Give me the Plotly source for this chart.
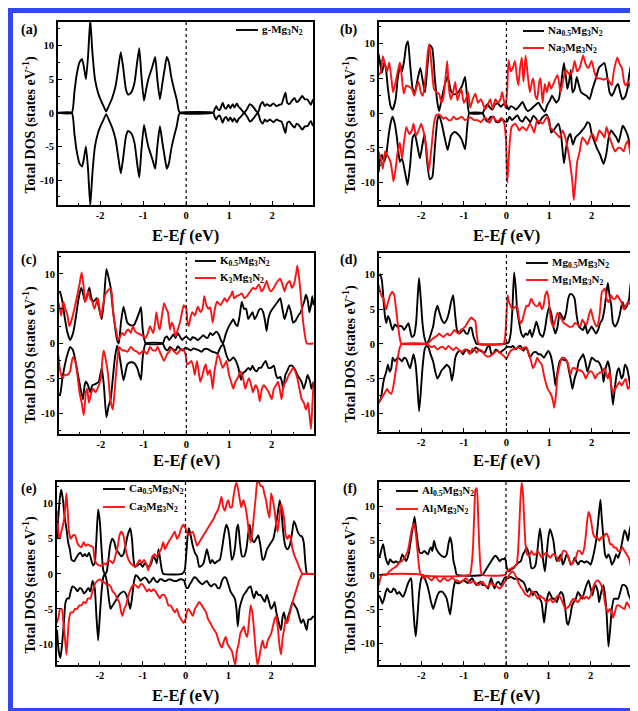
import plotly.graph_objects as go

W, H = 638, 711

# ---------------- data (energy eV, DOS states/eV) ----------------
a_up = [(-3.0,0),(-2.66,0),(-2.6,3.0),(-2.55,5.5),(-2.48,7.5),(-2.42,8.0),(-2.37,6.5),(-2.33,5.0),(-2.28,8.5),(-2.23,13.8),(-2.18,9),(-2.12,5.0),(-2.05,3.0),(-1.98,1.8),(-1.92,1.0),(-1.86,0.2),(-1.8,1.0),(-1.72,2.2),(-1.64,4.0),(-1.58,6.5),(-1.52,9.0),(-1.47,7.0),(-1.4,3.5),(-1.35,2.7),(-1.28,3.0),(-1.2,4.5),(-1.14,7.5),(-1.09,9.6),(-1.04,5.5),(-0.98,1.8),(-0.93,3.5),(-0.88,5.0),(-0.84,5.8),(-0.78,7.0),(-0.72,8.3),(-0.67,5.0),(-0.61,2.0),(-0.55,4.5),(-0.5,6.5),(-0.45,8.3),(-0.4,7.5),(-0.35,5.5),(-0.28,3.5),(-0.22,2.0),(-0.17,0.3),(-0.14,0),(0.63,0),(0.66,0.5),(0.7,1.0),(0.73,0.6),(0.78,0.4),(0.82,1.0),(0.85,1.5),(0.89,0.8),(0.93,0.6),(0.98,1.2),(1.03,0.7),(1.08,1.3),(1.12,0.8),(1.18,1.4),(1.22,0.9),(1.27,0.6),(1.35,0.0),(1.42,0.6),(1.48,1.3),(1.53,1.1),(1.58,0.7),(1.67,0.0),(1.73,1.2),(1.78,1.6),(1.83,1.0),(1.88,1.3),(1.95,1.0),(2.03,1.4),(2.1,1.0),(2.17,1.2),(2.22,1.3),(2.28,2.5),(2.31,3.0),(2.35,1.5),(2.4,1.3),(2.46,1.8),(2.52,2.2),(2.57,1.6),(2.62,1.8),(2.7,2.5),(2.76,2.0),(2.82,2.0),(2.86,1.6),(2.9,1.2),(2.95,2.0)]
a_dn = [(-3.0,0),(-2.66,0),(-2.6,-3.0),(-2.55,-5.5),(-2.48,-7.5),(-2.42,-8.0),(-2.37,-6.5),(-2.33,-5.0),(-2.28,-8.5),(-2.23,-13.8),(-2.18,-9),(-2.12,-5.0),(-2.05,-3.0),(-1.98,-1.8),(-1.92,-1.0),(-1.86,-0.2),(-1.8,-1.0),(-1.72,-2.2),(-1.64,-4.0),(-1.58,-6.5),(-1.52,-9.0),(-1.47,-7.0),(-1.4,-3.5),(-1.35,-2.7),(-1.28,-3.0),(-1.2,-4.5),(-1.14,-7.5),(-1.09,-9.6),(-1.04,-5.5),(-0.98,-1.8),(-0.93,-3.5),(-0.88,-5.0),(-0.84,-5.8),(-0.78,-7.0),(-0.72,-8.3),(-0.67,-5.0),(-0.61,-2.0),(-0.55,-4.5),(-0.5,-6.5),(-0.45,-8.3),(-0.4,-7.5),(-0.35,-5.5),(-0.28,-3.5),(-0.22,-2.0),(-0.17,-0.3),(-0.14,0),(0.63,0),(0.66,-0.5),(0.7,-1.0),(0.73,-0.6),(0.78,-0.4),(0.82,-1.0),(0.85,-1.5),(0.89,-0.8),(0.93,-0.6),(0.98,-1.2),(1.03,-0.7),(1.08,-1.3),(1.12,-0.8),(1.18,-1.4),(1.22,-0.9),(1.27,-0.6),(1.35,0.0),(1.42,-0.6),(1.48,-1.3),(1.53,-1.1),(1.58,-0.7),(1.67,0.0),(1.73,-1.2),(1.78,-1.6),(1.83,-1.0),(1.88,-1.3),(1.95,-1.0),(2.03,-1.4),(2.1,-1.0),(2.17,-1.2),(2.22,-1.3),(2.28,-2.5),(2.31,-3.0),(2.35,-1.5),(2.4,-1.3),(2.46,-1.8),(2.52,-2.2),(2.57,-1.6),(2.62,-1.8),(2.7,-2.5),(2.76,-2.0),(2.82,-2.0),(2.86,-1.6),(2.9,-1.2),(2.95,-2.0)]

b_blk_up = [(-3.0,8.5),(-2.96,7.0),(-2.92,5.8),(-2.87,7.2),(-2.83,6.5),(-2.78,3.5),(-2.72,1.0),(-2.67,0.5),(-2.6,2.0),(-2.55,5.0),(-2.49,7.0),(-2.45,6.0),(-2.4,7.5),(-2.35,9.8),(-2.31,10.3),(-2.26,7.0),(-2.2,3.5),(-2.15,3.0),(-2.08,5.0),(-2.02,6.5),(-1.96,4.5),(-1.91,3.0),(-1.85,7.0),(-1.8,9.8),(-1.74,9.3),(-1.68,5.0),(-1.62,1.5),(-1.58,0.3),(-1.52,2.0),(-1.45,4.0),(-1.38,5.3),(-1.3,3.2),(-1.23,2.7),(-1.15,2.9),(-1.05,3.8),(-0.97,5.2),(-0.92,2.0),(-0.87,0.0),(-0.56,0.0),(-0.5,0.8),(-0.45,1.3),(-0.4,0.9),(-0.33,0.5),(-0.27,1.2),(-0.2,1.4),(-0.13,0.9),(-0.07,1.3),(0.0,1.2),(0.05,0.5),(0.1,1.0),(0.17,0.8),(0.22,0.5),(0.3,1.0),(0.38,1.6),(0.44,0.8),(0.5,0.3),(0.58,0.6),(0.65,1.0),(0.75,1.5),(0.82,0.8),(0.9,0.2),(0.96,1.2),(1.02,1.8),(1.07,2.5),(1.12,2.0),(1.17,1.5),(1.23,2.0),(1.3,5.0),(1.35,7.2),(1.4,5.0),(1.43,3.5),(1.47,4.5),(1.51,6.2),(1.55,3.0),(1.6,3.5),(1.65,5.2),(1.7,4.0),(1.75,3.0),(1.82,2.7),(1.88,2.5),(1.95,2.0),(2.02,3.5),(2.1,5.0),(2.17,6.5),(2.25,7.0),(2.3,7.2),(2.36,5.5),(2.42,3.0),(2.47,2.5),(2.52,3.0),(2.57,3.8),(2.62,4.2),(2.67,3.0),(2.72,2.0),(2.78,2.3),(2.84,3.5),(2.88,5.5),(2.93,7.0),(2.97,7.5)]
b_blk_dn = [(-3.0,-8.5),(-2.96,-6.5),(-2.92,-6.0),(-2.87,-7.0),(-2.82,-6.0),(-2.76,-3.0),(-2.7,-1.0),(-2.67,-0.5),(-2.62,-1.5),(-2.57,-3.5),(-2.5,-7.0),(-2.45,-6.5),(-2.38,-8.5),(-2.32,-10.3),(-2.26,-7.5),(-2.2,-3.5),(-2.15,-3.0),(-2.08,-5.0),(-2.03,-6.5),(-1.97,-4.5),(-1.92,-3.0),(-1.86,-7.0),(-1.8,-9.5),(-1.74,-9.2),(-1.68,-5.0),(-1.62,-1.0),(-1.58,-0.3),(-1.52,-1.5),(-1.45,-3.5),(-1.38,-5.3),(-1.3,-3.2),(-1.22,-2.7),(-1.14,-3.0),(-1.05,-3.8),(-0.97,-5.2),(-0.92,-2.0),(-0.87,0.0),(-0.56,0.0),(-0.5,-0.8),(-0.45,-1.2),(-0.38,-0.6),(-0.3,-0.5),(-0.25,-1.2),(-0.18,-1.3),(-0.1,-0.8),(-0.04,-1.2),(0.02,-1.2),(0.07,-0.5),(0.13,-1.0),(0.2,-0.6),(0.26,-0.3),(0.32,-1.0),(0.38,-1.2),(0.45,-0.5),(0.52,-1.0),(0.56,-1.3),(0.63,-0.4),(0.7,-0.8),(0.76,-1.5),(0.82,-0.8),(0.88,-0.4),(0.94,-0.2),(1.0,-1.0),(1.05,-2.8),(1.1,-2.5),(1.16,-2.0),(1.22,-1.5),(1.28,-3.0),(1.35,-7.2),(1.4,-5.0),(1.45,-3.5),(1.5,-3.0),(1.56,-4.5),(1.62,-3.5),(1.7,-3.0),(1.77,-2.5),(1.84,-2.0),(1.9,-1.3),(1.95,-1.5),(2.0,-3.0),(2.06,-4.0),(2.12,-5.0),(2.2,-6.0),(2.28,-7.3),(2.34,-6.0),(2.4,-3.5),(2.46,-2.5),(2.52,-3.0),(2.58,-3.5),(2.63,-4.2),(2.68,-3.0),(2.73,-1.8),(2.8,-2.5),(2.86,-3.5),(2.92,-6.0),(2.97,-8.0)]
b_red_up = [(-3.0,5.5),(-2.95,5.8),(-2.9,8.2),(-2.85,7.0),(-2.8,6.0),(-2.75,7.3),(-2.7,5.0),(-2.66,3.0),(-2.6,4.5),(-2.55,6.0),(-2.5,7.3),(-2.46,5.5),(-2.41,2.8),(-2.35,4.0),(-2.28,3.8),(-2.22,3.5),(-2.16,2.5),(-2.1,4.0),(-2.06,4.5),(-2.01,3.0),(-1.96,2.5),(-1.9,5.0),(-1.84,9.0),(-1.81,9.9),(-1.76,7.0),(-1.7,3.5),(-1.64,3.0),(-1.58,2.8),(-1.53,1.5),(-1.48,2.2),(-1.43,5.0),(-1.39,7.5),(-1.35,3.5),(-1.3,2.0),(-1.25,3.0),(-1.2,4.5),(-1.15,1.8),(-1.1,2.8),(-1.06,3.5),(-1.0,1.5),(-0.95,2.0),(-0.9,3.0),(-0.85,0.8),(-0.79,2.0),(-0.73,2.8),(-0.67,1.5),(-0.6,2.0),(-0.56,1.5),(-0.5,0.5),(-0.44,1.2),(-0.38,2.0),(-0.32,0.6),(-0.26,2.0),(-0.2,1.5),(-0.14,2.0),(-0.1,3.0),(-0.05,1.5),(-0.02,0.8),(0.02,3.5),(0.05,7.6),(0.1,6.0),(0.15,6.5),(0.2,7.5),(0.25,5.0),(0.28,4.0),(0.32,6.5),(0.36,8.0),(0.4,4.5),(0.45,8.3),(0.5,5.5),(0.55,3.0),(0.6,4.5),(0.63,5.0),(0.68,2.5),(0.72,2.0),(0.77,4.5),(0.8,5.0),(0.85,1.5),(0.9,4.2),(0.95,3.0),(1.0,4.5),(1.05,3.5),(1.12,4.5),(1.2,5.5),(1.27,3.0),(1.34,5.0),(1.4,6.2),(1.48,5.5),(1.55,6.0),(1.6,7.5),(1.66,6.0),(1.72,6.5),(1.8,8.3),(1.86,7.0),(1.92,6.5),(2.0,7.5),(2.06,6.0),(2.12,5.0),(2.2,5.0),(2.28,4.8),(2.35,5.0),(2.42,4.5),(2.47,4.0),(2.52,6.0),(2.6,8.0),(2.66,7.0),(2.71,6.5),(2.76,4.5),(2.8,4.0),(2.86,4.5),(2.92,3.5),(2.97,1.8)]
b_red_dn = [(-3.0,-5.5),(-2.95,-6.5),(-2.9,-8.0),(-2.85,-5.5),(-2.78,-6.2),(-2.72,-7.0),(-2.68,-8.5),(-2.65,-9.8),(-2.6,-8.0),(-2.55,-5.5),(-2.5,-4.3),(-2.45,-6.5),(-2.4,-4.0),(-2.35,-2.0),(-2.28,-3.0),(-2.22,-2.5),(-2.18,-1.5),(-2.12,-3.2),(-2.06,-2.5),(-2.0,-1.5),(-1.95,-2.5),(-1.88,-5.0),(-1.82,-8.3),(-1.76,-5.0),(-1.7,-1.5),(-1.65,-0.3),(-1.58,-0.2),(-1.52,-0.5),(-1.48,-0.8),(-1.42,-0.6),(-1.36,-1.0),(-1.3,-1.0),(-1.24,-0.5),(-1.17,-0.9),(-1.1,-0.7),(-1.05,-0.5),(-0.97,-1.0),(-0.9,-0.8),(-0.84,-0.6),(-0.76,-1.0),(-0.68,-1.0),(-0.6,-1.3),(-0.5,-0.6),(-0.44,-1.0),(-0.4,-1.4),(-0.32,-0.5),(-0.25,-1.0),(-0.2,-1.2),(-0.12,-0.7),(-0.05,-1.5),(-0.01,-4.0),(0.02,-10.0),(0.05,-7.0),(0.08,-4.0),(0.12,-2.0),(0.2,-1.5),(0.26,-2.0),(0.3,-2.5),(0.37,-2.0),(0.42,-2.2),(0.47,-2.5),(0.55,-1.5),(0.6,-2.0),(0.65,-2.8),(0.72,-1.0),(0.78,-1.2),(0.85,-1.5),(0.92,-0.8),(0.96,-0.5),(1.02,-2.0),(1.1,-2.5),(1.18,-3.0),(1.25,-3.5),(1.32,-2.5),(1.38,-3.5),(1.45,-5.5),(1.5,-7.5),(1.55,-10.0),(1.58,-12.5),(1.62,-10.0),(1.66,-7.0),(1.72,-5.5),(1.78,-3.5),(1.85,-4.0),(1.9,-4.5),(1.96,-3.5),(2.02,-3.0),(2.1,-4.0),(2.18,-2.5),(2.25,-3.0),(2.3,-3.5),(2.35,-2.0),(2.42,-3.5),(2.48,-4.5),(2.55,-5.5),(2.62,-5.0),(2.68,-5.0),(2.75,-5.5),(2.8,-4.5),(2.85,-4.0),(2.9,-5.5),(2.94,-6.5),(2.97,-8.5)]

c_blk_up = [(-3.0,7.5),(-2.95,7.3),(-2.9,6.0),(-2.84,3.5),(-2.78,1.5),(-2.72,0.5),(-2.65,1.5),(-2.58,4.0),(-2.52,6.5),(-2.46,8.0),(-2.41,7.0),(-2.37,6.0),(-2.32,7.0),(-2.27,8.0),(-2.22,6.5),(-2.17,6.0),(-2.1,6.5),(-2.04,5.0),(-1.98,3.5),(-1.93,6.0),(-1.87,10.7),(-1.82,9.5),(-1.77,8.0),(-1.72,5.0),(-1.67,2.5),(-1.62,0.5),(-1.58,0.0),(-1.53,3.0),(-1.47,5.3),(-1.42,4.0),(-1.38,3.0),(-1.3,2.6),(-1.22,2.7),(-1.16,3.5),(-1.1,4.5),(-1.06,5.2),(-1.02,2.0),(-0.95,0.0),(-0.55,0.0),(-0.5,0.8),(-0.45,1.0),(-0.4,0.5),(-0.35,0.9),(-0.3,1.3),(-0.25,0.8),(-0.2,1.5),(-0.15,1.0),(-0.1,0.5),(-0.05,0.8),(0.0,1.0),(0.05,0.7),(0.1,0.5),(0.15,0.9),(0.2,0.8),(0.27,0.5),(0.33,0.8),(0.4,1.2),(0.45,0.9),(0.5,0.8),(0.56,1.5),(0.62,1.2),(0.7,1.7),(0.76,1.3),(0.81,0.5),(0.86,0.0),(0.93,1.5),(1.0,2.5),(1.05,3.0),(1.1,3.5),(1.15,2.8),(1.2,2.5),(1.25,4.0),(1.3,6.0),(1.35,5.0),(1.4,5.0),(1.45,3.5),(1.5,4.0),(1.55,4.5),(1.6,3.5),(1.65,4.0),(1.7,4.8),(1.75,5.0),(1.8,4.5),(1.85,3.0),(1.88,1.8),(1.92,3.5),(1.97,4.5),(2.02,5.0),(2.08,5.5),(2.14,6.0),(2.2,6.5),(2.25,5.0),(2.3,3.5),(2.35,4.5),(2.4,5.5),(2.45,4.5),(2.5,3.0),(2.56,3.3),(2.62,4.0),(2.68,4.5),(2.73,5.5),(2.76,6.0),(2.8,7.0),(2.85,6.0),(2.88,4.5),(2.92,5.5),(2.95,6.8),(2.98,5.5)]
c_blk_dn = [(-3.0,-7.5),(-2.95,-7.2),(-2.9,-5.0),(-2.84,-3.0),(-2.78,-1.5),(-2.72,-0.5),(-2.65,-1.0),(-2.58,-3.0),(-2.52,-5.0),(-2.46,-7.0),(-2.42,-8.0),(-2.38,-6.0),(-2.35,-5.5),(-2.3,-6.0),(-2.25,-7.0),(-2.2,-6.0),(-2.12,-5.8),(-2.05,-5.5),(-1.98,-3.5),(-1.93,-6.0),(-1.87,-10.6),(-1.82,-9.0),(-1.77,-8.0),(-1.72,-5.0),(-1.67,-2.0),(-1.62,-0.3),(-1.57,-1.5),(-1.52,-3.5),(-1.47,-5.3),(-1.42,-4.0),(-1.38,-3.0),(-1.3,-2.7),(-1.22,-2.8),(-1.15,-3.5),(-1.1,-4.5),(-1.06,-5.2),(-1.02,-2.0),(-0.95,0.0),(-0.55,0.0),(-0.5,-0.7),(-0.44,-1.0),(-0.38,-0.5),(-0.32,-0.8),(-0.25,-1.0),(-0.2,-0.4),(-0.14,-0.8),(-0.08,-1.0),(-0.02,-0.6),(0.05,-0.8),(0.1,-1.0),(0.17,-0.7),(0.22,-0.8),(0.3,-1.0),(0.36,-1.2),(0.42,-0.8),(0.5,-0.8),(0.56,-1.0),(0.62,-1.2),(0.68,-1.3),(0.73,-1.5),(0.78,-0.8),(0.83,-0.3),(0.87,-0.2),(0.93,-1.5),(1.0,-2.5),(1.05,-2.3),(1.1,-2.0),(1.16,-2.5),(1.22,-3.5),(1.28,-5.2),(1.33,-4.2),(1.38,-4.0),(1.45,-3.5),(1.5,-3.8),(1.55,-3.2),(1.6,-3.8),(1.65,-4.0),(1.7,-3.5),(1.75,-3.5),(1.82,-2.8),(1.86,-2.5),(1.92,-3.5),(1.98,-3.5),(2.05,-3.2),(2.1,-4.5),(2.14,-5.0),(2.2,-4.8),(2.24,-5.5),(2.27,-6.5),(2.32,-4.5),(2.36,-4.0),(2.42,-3.2),(2.48,-3.2),(2.55,-3.8),(2.6,-4.5),(2.65,-5.0),(2.7,-5.5),(2.75,-6.5),(2.8,-5.5),(2.84,-4.5),(2.9,-5.5),(2.93,-6.5),(2.98,-5.5)]
c_red_up = [(-3.0,6.0),(-2.96,5.0),(-2.93,4.0),(-2.88,6.0),(-2.83,5.0),(-2.78,4.0),(-2.74,2.5),(-2.68,3.5),(-2.62,5.0),(-2.55,7.0),(-2.5,8.5),(-2.45,10.2),(-2.4,8.0),(-2.37,6.0),(-2.33,6.5),(-2.3,7.5),(-2.25,6.5),(-2.2,6.0),(-2.15,5.0),(-2.1,6.0),(-2.07,6.5),(-2.02,4.5),(-2.0,3.7),(-1.95,5.5),(-1.9,7.0),(-1.85,7.5),(-1.8,7.8),(-1.76,7.8),(-1.72,5.0),(-1.68,3.0),(-1.63,1.5),(-1.6,0.5),(-1.55,1.0),(-1.5,1.5),(-1.45,1.2),(-1.4,1.8),(-1.35,2.0),(-1.3,1.5),(-1.25,2.5),(-1.2,1.8),(-1.15,1.5),(-1.08,1.3),(-1.0,1.0),(-0.95,0.8),(-0.9,1.5),(-0.85,2.5),(-0.8,1.8),(-0.77,1.5),(-0.72,3.5),(-0.7,4.5),(-0.65,2.5),(-0.62,2.0),(-0.57,4.0),(-0.52,5.8),(-0.47,5.0),(-0.43,4.5),(-0.38,2.0),(-0.34,3.0),(-0.3,2.5),(-0.25,1.0),(-0.2,2.0),(-0.15,3.0),(-0.1,4.5),(-0.06,5.5),(0.0,5.0),(0.03,3.0),(0.06,2.5),(0.1,3.8),(0.14,4.5),(0.2,4.0),(0.27,5.3),(0.33,4.5),(0.38,5.0),(0.42,6.8),(0.47,5.5),(0.52,5.0),(0.56,5.2),(0.62,3.0),(0.67,5.0),(0.72,6.0),(0.8,5.5),(0.85,6.0),(0.9,6.5),(0.95,6.0),(1.0,6.5),(1.05,7.0),(1.08,7.5),(1.12,6.5),(1.18,6.8),(1.25,7.0),(1.3,7.2),(1.36,6.5),(1.42,6.8),(1.5,7.5),(1.56,8.0),(1.62,7.8),(1.7,8.5),(1.76,7.5),(1.82,8.0),(1.88,9.0),(1.93,8.0),(1.98,7.5),(2.05,8.0),(2.12,8.8),(2.2,9.3),(2.25,8.5),(2.3,7.5),(2.35,8.5),(2.42,9.0),(2.47,8.0),(2.52,8.5),(2.57,10.0),(2.6,11.2),(2.64,9.5),(2.68,7.0),(2.72,4.0),(2.77,1.5),(2.82,0.0),(2.98,0.0)]
c_red_dn = [(-3.0,-1.5),(-2.95,-4.0),(-2.9,-5.0),(-2.85,-4.5),(-2.78,-4.5),(-2.72,-4.0),(-2.66,-2.0),(-2.6,-2.5),(-2.55,-4.5),(-2.5,-7.0),(-2.45,-8.5),(-2.4,-10.3),(-2.35,-7.0),(-2.32,-6.5),(-2.28,-8.5),(-2.22,-7.0),(-2.18,-6.5),(-2.12,-7.0),(-2.05,-6.0),(-2.0,-5.0),(-1.96,-2.0),(-1.93,-1.0),(-1.88,-2.5),(-1.83,-4.5),(-1.78,-8.0),(-1.72,-9.5),(-1.68,-7.0),(-1.64,-4.0),(-1.6,-1.5),(-1.57,-0.5),(-1.5,-1.0),(-1.44,-1.0),(-1.38,-1.2),(-1.3,-0.5),(-1.22,-1.0),(-1.15,-1.2),(-1.1,-1.5),(-1.04,-1.2),(-1.0,-1.0),(-0.92,-1.5),(-0.85,-0.5),(-0.78,-1.0),(-0.72,-1.0),(-0.67,-0.5),(-0.6,-1.5),(-0.52,-2.5),(-0.45,-1.5),(-0.4,-1.2),(-0.35,-0.7),(-0.28,-1.2),(-0.22,-1.5),(-0.15,-1.0),(-0.08,-0.8),(-0.02,-1.5),(0.02,-3.0),(0.07,-2.8),(0.12,-2.5),(0.17,-3.5),(0.2,-4.5),(0.25,-2.5),(0.3,-4.5),(0.33,-5.5),(0.38,-4.5),(0.42,-3.5),(0.46,-3.0),(0.5,-4.5),(0.55,-3.8),(0.59,-5.0),(0.62,-6.5),(0.66,-4.0),(0.69,-3.0),(0.74,-1.5),(0.8,-2.5),(0.85,-3.5),(0.9,-3.0),(0.94,-2.5),(1.0,-4.5),(1.05,-5.5),(1.1,-6.5),(1.15,-5.5),(1.2,-5.0),(1.27,-4.0),(1.33,-5.0),(1.38,-6.5),(1.43,-5.5),(1.47,-5.0),(1.52,-6.0),(1.56,-7.0),(1.62,-6.0),(1.67,-6.5),(1.72,-8.3),(1.77,-6.5),(1.82,-6.0),(1.88,-6.5),(1.93,-7.0),(2.0,-8.0),(2.05,-6.5),(2.1,-6.0),(2.15,-5.5),(2.2,-7.0),(2.23,-8.0),(2.28,-6.0),(2.33,-5.5),(2.4,-4.5),(2.45,-4.0),(2.5,-3.5),(2.55,-4.0),(2.6,-5.0),(2.65,-6.5),(2.7,-8.0),(2.75,-8.5),(2.8,-9.5),(2.85,-8.5),(2.88,-10.0),(2.92,-12.3),(2.95,-9.0),(2.98,-5.5)]

d_blk_up = [(-3.0,9.8),(-2.96,10.0),(-2.92,9.0),(-2.88,6.0),(-2.85,4.0),(-2.82,3.0),(-2.78,4.0),(-2.74,3.5),(-2.7,2.5),(-2.67,2.0),(-2.62,2.8),(-2.56,2.5),(-2.5,2.6),(-2.45,2.5),(-2.4,2.0),(-2.35,2.5),(-2.3,3.0),(-2.26,2.0),(-2.22,1.0),(-2.17,1.2),(-2.12,3.0),(-2.08,7.0),(-2.05,9.5),(-2.01,6.5),(-1.97,3.0),(-1.92,0.8),(-1.87,0.0),(-1.82,0.5),(-1.77,1.5),(-1.72,2.5),(-1.67,4.5),(-1.62,5.5),(-1.57,4.5),(-1.52,3.5),(-1.46,3.0),(-1.4,3.5),(-1.35,4.5),(-1.3,6.0),(-1.25,7.0),(-1.2,4.0),(-1.16,2.0),(-1.1,1.5),(-1.05,1.8),(-1.0,2.0),(-0.95,1.5),(-0.9,1.5),(-0.86,2.3),(-0.82,2.3),(-0.78,1.2),(-0.74,0.5),(-0.7,0.0),(-0.05,0.0),(0.05,0.2),(0.1,1.5),(0.14,5.0),(0.18,10.3),(0.22,8.0),(0.25,5.0),(0.3,3.0),(0.35,1.5),(0.4,1.0),(0.45,1.5),(0.5,1.3),(0.55,2.0),(0.6,1.0),(0.65,2.0),(0.7,3.2),(0.74,2.5),(0.78,1.5),(0.85,1.0),(0.9,2.0),(0.95,4.0),(1.0,5.3),(1.05,4.5),(1.1,2.5),(1.15,1.5),(1.2,2.5),(1.25,4.5),(1.3,4.0),(1.35,3.5),(1.4,4.5),(1.45,6.5),(1.5,7.2),(1.56,7.0),(1.6,6.5),(1.65,4.0),(1.7,2.5),(1.75,2.2),(1.8,2.0),(1.85,2.8),(1.9,1.5),(1.95,2.0),(2.0,2.5),(2.05,2.0),(2.1,1.5),(2.15,2.0),(2.2,3.0),(2.25,3.5),(2.3,5.0),(2.35,7.5),(2.38,8.8),(2.42,7.0),(2.46,5.5),(2.5,3.0),(2.55,2.5),(2.6,3.0),(2.65,4.0),(2.7,5.5),(2.73,6.0),(2.78,5.0),(2.83,5.5),(2.88,6.5),(2.92,9.0),(2.96,8.0),(2.98,7.5)]
d_blk_dn = [(-3.0,-8.5),(-2.95,-8.0),(-2.9,-6.0),(-2.87,-5.0),(-2.82,-4.0),(-2.78,-3.0),(-2.74,-4.0),(-2.7,-3.5),(-2.67,-2.0),(-2.62,-2.5),(-2.55,-2.0),(-2.5,-2.2),(-2.45,-2.5),(-2.4,-2.0),(-2.35,-2.2),(-2.3,-3.0),(-2.26,-3.5),(-2.22,-2.5),(-2.18,-1.5),(-2.13,-3.0),(-2.09,-6.0),(-2.05,-9.7),(-2.01,-7.0),(-1.97,-3.5),(-1.92,-0.8),(-1.88,-0.3),(-1.83,-0.5),(-1.78,-1.5),(-1.72,-2.5),(-1.67,-4.0),(-1.62,-5.0),(-1.57,-4.5),(-1.52,-3.8),(-1.47,-3.5),(-1.4,-3.0),(-1.33,-3.5),(-1.28,-5.3),(-1.24,-4.0),(-1.2,-2.0),(-1.14,-1.2),(-1.08,-1.0),(-1.02,-1.5),(-0.95,-0.8),(-0.88,-1.0),(-0.82,-1.3),(-0.76,-0.8),(-0.72,-0.5),(-0.66,-0.8),(-0.6,-1.0),(-0.55,-1.2),(-0.5,-1.2),(-0.45,-0.5),(-0.4,-0.3),(-0.35,-1.5),(-0.3,-1.3),(-0.25,-0.8),(-0.2,-1.0),(-0.15,-1.3),(-0.1,-1.0),(-0.05,-0.8),(0.0,-0.5),(0.05,-0.4),(0.1,-0.5),(0.15,-0.3),(0.22,-0.8),(0.28,-0.4),(0.33,-0.3),(0.4,-1.0),(0.45,-0.5),(0.5,-1.0),(0.55,-2.0),(0.6,-1.5),(0.65,-1.2),(0.7,-1.2),(0.75,-1.5),(0.8,-1.5),(0.85,-1.8),(0.88,-2.0),(0.93,-1.5),(0.98,-1.0),(1.03,-1.5),(1.07,-2.5),(1.12,-4.5),(1.15,-6.0),(1.2,-4.0),(1.25,-2.5),(1.3,-2.2),(1.35,-2.3),(1.42,-2.5),(1.47,-4.0),(1.52,-5.5),(1.55,-6.5),(1.6,-5.0),(1.65,-4.0),(1.7,-2.5),(1.75,-2.0),(1.8,-1.5),(1.85,-2.5),(1.9,-4.0),(1.95,-3.0),(2.0,-2.0),(2.05,-2.2),(2.1,-2.5),(2.15,-2.5),(2.2,-3.0),(2.25,-4.0),(2.28,-5.5),(2.33,-3.5),(2.38,-2.5),(2.42,-3.5),(2.45,-5.5),(2.5,-8.8),(2.55,-6.0),(2.6,-4.0),(2.64,-3.5),(2.7,-5.0),(2.74,-4.5),(2.78,-3.0),(2.83,-3.5),(2.88,-5.0),(2.92,-6.5),(2.98,-7.0)]
d_red_up = [(-3.0,8.5),(-2.96,7.5),(-2.92,6.8),(-2.88,6.5),(-2.85,5.5),(-2.82,5.0),(-2.78,6.0),(-2.73,7.0),(-2.68,7.5),(-2.63,7.0),(-2.6,5.5),(-2.56,3.5),(-2.52,1.5),(-2.48,0.2),(-2.45,0.0),(-1.87,0.0),(-1.82,0.2),(-1.77,0.5),(-1.72,0.8),(-1.67,1.0),(-1.62,1.2),(-1.58,1.5),(-1.53,1.2),(-1.48,1.0),(-1.43,1.3),(-1.38,1.5),(-1.33,1.2),(-1.28,1.5),(-1.22,2.0),(-1.17,1.7),(-1.12,1.5),(-1.07,2.0),(-1.02,2.2),(-0.97,2.5),(-0.92,3.0),(-0.87,3.5),(-0.82,3.8),(-0.77,3.5),(-0.73,3.3),(-0.7,1.5),(-0.67,0.3),(-0.65,0.0),(-0.07,0.0),(-0.03,1.0),(0.0,4.0),(0.03,7.0),(0.06,6.0),(0.1,5.5),(0.13,5.0),(0.2,5.3),(0.25,5.5),(0.3,3.5),(0.34,3.0),(0.38,3.5),(0.42,4.5),(0.47,5.5),(0.52,5.5),(0.58,6.5),(0.62,6.0),(0.68,5.5),(0.74,5.5),(0.78,6.0),(0.83,5.0),(0.87,5.5),(0.91,7.0),(0.95,7.6),(0.99,6.5),(1.02,4.5),(1.06,3.0),(1.1,2.5),(1.15,3.5),(1.2,4.5),(1.25,4.0),(1.3,3.5),(1.35,3.0),(1.4,2.8),(1.47,2.5),(1.55,2.5),(1.6,3.0),(1.67,2.8),(1.73,2.5),(1.78,3.5),(1.83,3.0),(1.88,2.8),(1.93,4.0),(1.98,5.0),(2.02,4.0),(2.07,3.0),(2.12,2.5),(2.17,3.5),(2.2,5.0),(2.24,7.5),(2.28,7.8),(2.31,8.0),(2.35,6.5),(2.4,6.0),(2.45,7.0),(2.5,6.5),(2.55,6.5),(2.6,7.0),(2.65,6.5),(2.7,6.0),(2.75,5.0),(2.8,5.5),(2.85,6.0),(2.9,5.8),(2.95,5.0),(2.98,4.0)]
d_red_dn = [(-3.0,-8.5),(-2.95,-8.0),(-2.9,-7.5),(-2.85,-7.0),(-2.8,-6.5),(-2.75,-7.0),(-2.7,-7.2),(-2.65,-6.0),(-2.6,-4.0),(-2.55,-2.0),(-2.5,-0.5),(-2.45,0.0),(-1.87,0.0),(-1.82,-0.2),(-1.76,-0.5),(-1.7,-0.3),(-1.62,-0.8),(-1.55,-0.5),(-1.5,-0.4),(-1.43,-0.8),(-1.36,-0.3),(-1.3,-0.6),(-1.25,-0.9),(-1.18,-0.5),(-1.1,-1.0),(-1.05,-1.2),(-0.98,-0.8),(-0.92,-1.0),(-0.86,-1.5),(-0.8,-0.7),(-0.75,-0.8),(-0.7,-1.3),(-0.64,-0.8),(-0.58,-1.0),(-0.52,-1.5),(-0.46,-1.8),(-0.4,-1.8),(-0.33,-1.5),(-0.27,-1.2),(-0.22,-1.0),(-0.16,-1.3),(-0.11,-1.5),(-0.05,-1.8),(0.0,-2.2),(0.05,-1.5),(0.1,-1.0),(0.15,-0.8),(0.2,-0.7),(0.28,-0.5),(0.35,-0.8),(0.42,-0.5),(0.47,-0.5),(0.53,-1.5),(0.58,-2.5),(0.62,-3.5),(0.67,-3.0),(0.72,-2.0),(0.77,-2.5),(0.83,-3.0),(0.88,-4.5),(0.92,-5.5),(0.97,-6.5),(1.02,-7.0),(1.06,-7.5),(1.1,-8.5),(1.12,-9.2),(1.16,-7.5),(1.2,-4.5),(1.25,-3.0),(1.3,-2.0),(1.36,-2.0),(1.42,-2.5),(1.47,-3.5),(1.5,-4.5),(1.55,-3.5),(1.6,-3.5),(1.66,-3.8),(1.72,-3.8),(1.78,-4.0),(1.83,-4.5),(1.86,-5.0),(1.9,-4.5),(1.95,-4.0),(2.0,-4.0),(2.05,-4.5),(2.08,-5.0),(2.12,-4.5),(2.18,-4.2),(2.25,-4.0),(2.3,-3.5),(2.35,-4.5),(2.38,-5.0),(2.42,-4.0),(2.46,-6.0),(2.5,-7.0),(2.55,-6.5),(2.6,-6.0),(2.65,-5.5),(2.7,-6.0),(2.75,-5.5),(2.8,-5.0),(2.85,-6.5),(2.9,-6.0),(2.94,-5.5),(2.98,-5.5)]

e_blk_up = [(-3.0,5.0),(-2.97,8.0),(-2.93,11.0),(-2.9,12.0),(-2.86,10.5),(-2.82,8.0),(-2.78,6.5),(-2.74,4.5),(-2.7,3.5),(-2.66,2.0),(-2.6,1.8),(-2.55,2.3),(-2.5,2.8),(-2.45,3.0),(-2.4,2.5),(-2.35,2.8),(-2.3,2.5),(-2.25,3.0),(-2.2,2.0),(-2.16,1.2),(-2.12,1.5),(-2.08,5.0),(-2.04,9.2),(-2.0,7.5),(-1.96,3.5),(-1.92,0.5),(-1.88,0.0),(-1.84,0.3),(-1.8,2.0),(-1.76,4.0),(-1.71,5.0),(-1.66,4.5),(-1.62,3.5),(-1.56,3.0),(-1.5,2.5),(-1.45,2.8),(-1.4,4.0),(-1.35,5.5),(-1.29,6.5),(-1.25,5.0),(-1.22,2.5),(-1.18,1.0),(-1.12,1.2),(-1.06,1.5),(-1.0,1.0),(-0.95,1.5),(-0.9,1.2),(-0.85,1.0),(-0.8,1.5),(-0.75,2.5),(-0.7,2.0),(-0.67,1.5),(-0.63,3.5),(-0.6,2.5),(-0.56,0.8),(-0.52,0.0),(-0.08,0.0),(-0.02,0.5),(0.02,3.0),(0.05,5.5),(0.08,6.5),(0.12,5.5),(0.17,4.0),(0.22,3.0),(0.27,2.5),(0.32,1.0),(0.38,1.2),(0.42,1.5),(0.46,2.5),(0.5,3.5),(0.54,2.5),(0.58,1.5),(0.62,2.0),(0.68,1.5),(0.74,1.8),(0.8,2.0),(0.85,3.5),(0.9,5.5),(0.95,7.0),(0.99,6.5),(1.03,5.0),(1.08,2.0),(1.12,2.5),(1.16,4.0),(1.2,6.5),(1.23,7.0),(1.27,4.5),(1.32,2.5),(1.37,2.5),(1.42,3.5),(1.47,6.0),(1.5,7.0),(1.55,5.0),(1.6,4.5),(1.65,5.0),(1.7,5.5),(1.75,4.0),(1.8,2.0),(1.84,2.2),(1.9,3.5),(1.95,4.0),(2.0,4.5),(2.05,5.0),(2.1,6.5),(2.15,8.5),(2.2,10.5),(2.24,9.0),(2.28,6.0),(2.33,4.0),(2.38,3.5),(2.43,4.0),(2.48,5.5),(2.53,7.5),(2.57,7.0),(2.62,6.0),(2.67,5.5),(2.72,5.3),(2.76,4.5),(2.8,1.5),(2.84,0.0),(3.0,0.0)]
e_blk_dn = [(-3.0,-8.0),(-2.96,-11.0),(-2.92,-12.0),(-2.88,-10.0),(-2.84,-7.0),(-2.8,-4.0),(-2.76,-3.5),(-2.72,-3.5),(-2.68,-2.5),(-2.64,-1.8),(-2.58,-2.0),(-2.52,-2.5),(-2.47,-2.0),(-2.42,-2.2),(-2.37,-2.8),(-2.32,-2.5),(-2.27,-2.0),(-2.22,-2.5),(-2.17,-1.0),(-2.12,-2.0),(-2.08,-6.0),(-2.04,-9.5),(-2.0,-6.0),(-1.96,-2.5),(-1.92,-0.5),(-1.88,0.0),(-1.84,-1.0),(-1.8,-3.0),(-1.75,-5.0),(-1.7,-4.5),(-1.65,-4.0),(-1.6,-3.5),(-1.55,-3.0),(-1.5,-2.7),(-1.44,-2.5),(-1.38,-3.0),(-1.33,-4.0),(-1.29,-5.0),(-1.25,-3.5),(-1.2,-1.0),(-1.16,-0.2),(-1.1,-0.5),(-1.05,-1.0),(-1.0,-0.7),(-0.95,-0.5),(-0.9,-0.8),(-0.85,-1.3),(-0.8,-1.0),(-0.75,-0.5),(-0.7,-1.0),(-0.65,-1.2),(-0.6,-0.8),(-0.55,-0.8),(-0.5,-1.0),(-0.45,-1.0),(-0.4,-0.8),(-0.35,-0.8),(-0.28,-1.0),(-0.2,-1.0),(-0.14,-0.8),(-0.08,-0.8),(-0.03,-1.0),(0.02,-2.0),(0.06,-2.0),(0.1,-1.5),(0.15,-1.0),(0.2,-0.5),(0.25,-0.6),(0.3,-1.0),(0.35,-1.3),(0.4,-1.5),(0.45,-1.2),(0.5,-1.0),(0.55,-1.5),(0.6,-1.8),(0.65,-1.5),(0.7,-1.5),(0.75,-2.0),(0.8,-2.0),(0.85,-1.0),(0.9,-0.5),(0.95,-0.6),(1.0,-1.5),(1.05,-2.5),(1.1,-3.0),(1.15,-3.5),(1.19,-5.0),(1.22,-7.5),(1.26,-5.0),(1.3,-4.0),(1.36,-3.0),(1.42,-2.5),(1.47,-2.0),(1.52,-1.8),(1.57,-3.0),(1.6,-3.5),(1.65,-2.5),(1.7,-3.0),(1.75,-3.0),(1.8,-3.5),(1.85,-4.0),(1.9,-3.0),(1.95,-4.0),(2.0,-5.0),(2.05,-4.5),(2.08,-4.0),(2.12,-5.5),(2.16,-6.5),(2.2,-7.5),(2.23,-8.0),(2.27,-6.0),(2.3,-5.5),(2.35,-7.0),(2.4,-6.0),(2.45,-5.0),(2.5,-4.0),(2.55,-4.5),(2.6,-5.0),(2.65,-6.0),(2.7,-7.0),(2.75,-6.5),(2.8,-7.5),(2.83,-8.0),(2.87,-6.5),(2.92,-6.5),(2.96,-6.2),(3.0,-6.0)]
e_red_up = [(-3.0,9.0),(-2.97,6.0),(-2.94,5.0),(-2.9,6.0),(-2.86,7.0),(-2.83,8.0),(-2.8,10.0),(-2.78,11.5),(-2.75,9.0),(-2.72,6.0),(-2.68,5.0),(-2.63,5.5),(-2.58,5.5),(-2.53,4.5),(-2.48,4.0),(-2.43,3.8),(-2.38,4.5),(-2.33,4.0),(-2.28,4.2),(-2.22,4.0),(-2.16,3.8),(-2.12,2.0),(-2.08,1.5),(-2.02,1.2),(-1.95,1.2),(-1.9,1.5),(-1.85,1.3),(-1.8,2.0),(-1.75,1.8),(-1.7,1.5),(-1.66,2.0),(-1.62,3.0),(-1.58,4.0),(-1.54,5.5),(-1.5,6.0),(-1.45,5.5),(-1.42,4.5),(-1.38,3.0),(-1.33,2.0),(-1.28,1.5),(-1.22,1.2),(-1.17,1.0),(-1.12,1.5),(-1.07,2.0),(-1.02,1.5),(-0.97,2.0),(-0.92,1.5),(-0.87,0.5),(-0.82,1.5),(-0.77,2.5),(-0.72,2.8),(-0.67,2.5),(-0.62,3.0),(-0.57,3.5),(-0.52,4.5),(-0.48,3.5),(-0.44,4.0),(-0.4,4.5),(-0.35,5.0),(-0.3,5.5),(-0.25,6.0),(-0.2,5.0),(-0.15,5.5),(-0.1,6.5),(-0.05,7.0),(0.0,6.5),(0.03,6.0),(0.07,5.5),(0.12,5.8),(0.17,6.0),(0.22,5.0),(0.27,4.0),(0.32,4.5),(0.37,5.0),(0.42,5.5),(0.47,6.0),(0.52,6.5),(0.57,7.0),(0.62,7.5),(0.67,8.0),(0.7,8.5),(0.75,9.0),(0.8,10.0),(0.84,11.0),(0.88,9.5),(0.92,9.0),(0.96,10.0),(1.0,10.5),(1.04,9.5),(1.08,9.5),(1.12,11.0),(1.16,12.5),(1.19,13.0),(1.23,12.0),(1.27,10.5),(1.3,9.5),(1.35,10.5),(1.4,9.5),(1.44,8.0),(1.48,6.0),(1.52,4.5),(1.56,6.0),(1.6,8.5),(1.64,11.0),(1.68,13.5),(1.72,13.0),(1.76,12.5),(1.8,12.5),(1.84,11.5),(1.88,10.5),(1.92,9.0),(1.96,8.0),(2.0,11.5),(2.04,10.5),(2.08,9.0),(2.12,7.0),(2.15,6.0),(2.19,8.0),(2.23,10.0),(2.27,9.0),(2.3,8.0),(2.34,5.5),(2.38,5.0),(2.42,5.5),(2.46,5.0),(2.5,3.5),(2.55,2.5),(2.6,1.8),(2.65,1.0),(2.7,0.3),(2.73,0.0),(3.0,0.0)]
e_red_dn = [(-3.0,-7.0),(-2.96,-6.0),(-2.93,-5.0),(-2.89,-5.0),(-2.85,-7.0),(-2.81,-9.5),(-2.78,-11.5),(-2.75,-9.0),(-2.72,-6.5),(-2.68,-5.5),(-2.63,-5.5),(-2.58,-5.0),(-2.53,-5.0),(-2.48,-4.5),(-2.43,-4.5),(-2.38,-4.0),(-2.33,-4.2),(-2.28,-3.5),(-2.22,-3.5),(-2.17,-2.5),(-2.12,-1.5),(-2.06,-1.0),(-2.0,-0.8),(-1.95,-1.0),(-1.9,-1.2),(-1.85,-1.5),(-1.8,-1.5),(-1.75,-1.8),(-1.7,-2.5),(-1.65,-2.8),(-1.6,-3.5),(-1.55,-4.0),(-1.5,-5.5),(-1.47,-6.0),(-1.43,-5.0),(-1.39,-4.5),(-1.35,-3.5),(-1.3,-2.5),(-1.25,-1.8),(-1.2,-1.5),(-1.15,-1.7),(-1.1,-2.0),(-1.05,-1.5),(-1.0,-1.5),(-0.95,-2.0),(-0.9,-2.5),(-0.85,-2.2),(-0.8,-2.5),(-0.75,-2.2),(-0.7,-2.5),(-0.65,-3.0),(-0.6,-3.5),(-0.55,-3.0),(-0.5,-3.0),(-0.45,-3.5),(-0.4,-4.5),(-0.35,-4.5),(-0.3,-5.0),(-0.25,-5.5),(-0.2,-5.0),(-0.15,-6.0),(-0.1,-6.5),(-0.05,-7.0),(0.0,-6.5),(0.03,-5.5),(0.07,-5.0),(0.12,-5.5),(0.17,-6.0),(0.22,-5.0),(0.27,-4.5),(0.32,-4.0),(0.38,-4.5),(0.43,-5.0),(0.48,-5.5),(0.53,-6.5),(0.58,-7.0),(0.62,-7.5),(0.67,-8.0),(0.72,-8.5),(0.77,-9.5),(0.8,-10.0),(0.85,-10.5),(0.9,-9.5),(0.94,-9.0),(0.98,-10.0),(1.03,-10.5),(1.08,-11.0),(1.12,-12.0),(1.16,-13.0),(1.2,-11.0),(1.24,-10.0),(1.28,-8.5),(1.32,-8.0),(1.36,-7.5),(1.4,-8.5),(1.44,-9.0),(1.48,-7.0),(1.52,-4.5),(1.56,-5.5),(1.6,-8.0),(1.64,-11.0),(1.68,-13.0),(1.72,-12.0),(1.76,-10.5),(1.8,-9.5),(1.84,-10.5),(1.88,-10.5),(1.92,-9.5),(1.96,-9.0),(2.0,-8.5),(2.04,-7.5),(2.08,-6.5),(2.12,-6.0),(2.16,-8.0),(2.2,-10.5),(2.23,-11.5),(2.27,-9.0),(2.3,-8.0),(2.34,-6.5),(2.38,-7.0),(2.42,-6.0),(2.46,-5.0),(2.5,-4.0),(2.55,-3.0),(2.6,-2.0),(2.65,-1.0),(2.7,-0.3),(2.73,0.0),(3.0,0.0)]

f_blk_up = [(-3.0,2.5),(-2.97,3.0),(-2.94,3.8),(-2.9,4.5),(-2.86,3.0),(-2.82,2.0),(-2.78,1.5),(-2.74,2.3),(-2.7,2.0),(-2.65,1.8),(-2.6,2.0),(-2.55,1.8),(-2.5,2.0),(-2.45,3.0),(-2.4,2.5),(-2.36,2.0),(-2.3,3.0),(-2.25,5.0),(-2.2,7.0),(-2.16,8.5),(-2.12,6.5),(-2.08,4.5),(-2.04,3.3),(-1.98,3.2),(-1.93,3.5),(-1.88,3.2),(-1.84,3.0),(-1.8,3.8),(-1.77,4.0),(-1.74,3.5),(-1.7,5.0),(-1.66,4.0),(-1.62,3.5),(-1.56,3.0),(-1.5,2.7),(-1.45,2.6),(-1.4,3.0),(-1.36,4.5),(-1.32,5.5),(-1.28,4.5),(-1.24,2.0),(-1.2,1.0),(-1.16,0.0),(-0.55,0.0),(-0.5,0.5),(-0.45,1.0),(-0.4,1.5),(-0.35,2.0),(-0.3,2.5),(-0.25,2.8),(-0.2,2.5),(-0.15,2.0),(-0.1,2.3),(-0.05,2.3),(-0.02,2.5),(0.02,1.0),(0.07,0.5),(0.12,0.8),(0.18,1.0),(0.24,1.5),(0.3,1.8),(0.35,2.0),(0.4,3.0),(0.45,3.5),(0.48,4.0),(0.52,3.5),(0.56,2.5),(0.6,1.0),(0.65,1.0),(0.7,1.5),(0.75,4.0),(0.8,6.8),(0.84,5.0),(0.88,2.0),(0.92,0.5),(0.96,3.0),(1.0,5.5),(1.04,6.7),(1.08,6.0),(1.12,5.0),(1.16,3.0),(1.2,2.0),(1.25,2.5),(1.3,3.0),(1.34,1.5),(1.38,2.0),(1.43,3.0),(1.48,2.5),(1.53,1.5),(1.58,1.8),(1.62,2.5),(1.66,2.0),(1.7,1.5),(1.75,2.0),(1.8,2.0),(1.85,1.8),(1.9,2.0),(1.95,1.8),(2.0,1.5),(2.05,2.5),(2.1,4.0),(2.14,5.5),(2.18,8.0),(2.23,11.0),(2.26,8.5),(2.3,5.5),(2.34,3.0),(2.38,2.5),(2.42,3.0),(2.46,2.5),(2.5,1.5),(2.55,2.0),(2.6,3.0),(2.65,2.5),(2.7,3.5),(2.75,5.0),(2.8,6.5),(2.84,6.0),(2.88,5.0),(2.92,6.5),(2.96,7.5),(3.0,8.0)]
f_blk_dn = [(-3.0,-3.0),(-2.96,-3.5),(-2.92,-4.2),(-2.88,-3.5),(-2.84,-2.5),(-2.8,-2.0),(-2.75,-2.5),(-2.7,-2.5),(-2.66,-2.0),(-2.62,-2.2),(-2.57,-2.8),(-2.52,-2.5),(-2.47,-3.0),(-2.43,-3.2),(-2.38,-2.5),(-2.33,-1.5),(-2.28,-0.8),(-2.24,-0.5),(-2.2,-4.0),(-2.16,-7.5),(-2.13,-9.0),(-2.09,-6.0),(-2.05,-2.5),(-2.0,-0.5),(-1.96,0.0),(-1.92,-0.5),(-1.86,-1.5),(-1.82,-2.5),(-1.77,-4.0),(-1.72,-5.0),(-1.67,-4.0),(-1.62,-3.0),(-1.57,-2.5),(-1.5,-2.5),(-1.44,-3.0),(-1.4,-3.5),(-1.35,-5.0),(-1.32,-5.8),(-1.28,-4.0),(-1.24,-2.0),(-1.2,-1.0),(-1.15,-1.2),(-1.1,-1.2),(-1.05,-1.0),(-1.0,-0.8),(-0.95,-1.0),(-0.9,-1.2),(-0.85,-0.8),(-0.8,-0.5),(-0.75,-1.0),(-0.7,-1.5),(-0.65,-1.2),(-0.6,-1.0),(-0.55,-1.5),(-0.5,-1.5),(-0.45,-1.8),(-0.42,-2.0),(-0.38,-1.0),(-0.35,-0.5),(-0.3,-1.5),(-0.27,-2.0),(-0.22,-1.2),(-0.18,-1.0),(-0.12,-1.5),(-0.08,-1.0),(-0.04,-0.5),(0.0,-0.3),(0.05,-0.5),(0.1,-0.3),(0.15,-0.4),(0.2,-0.6),(0.25,-0.5),(0.3,-0.6),(0.35,-0.8),(0.4,-1.0),(0.45,-1.5),(0.5,-2.5),(0.55,-2.0),(0.6,-2.5),(0.63,-3.0),(0.67,-2.5),(0.72,-2.5),(0.77,-3.0),(0.8,-3.5),(0.84,-4.0),(0.87,-5.5),(0.9,-7.0),(0.93,-5.5),(0.97,-3.5),(1.02,-2.5),(1.06,-3.0),(1.1,-3.5),(1.15,-3.5),(1.2,-4.0),(1.25,-3.0),(1.3,-2.5),(1.35,-3.0),(1.4,-5.0),(1.44,-7.0),(1.47,-7.3),(1.52,-6.0),(1.56,-4.5),(1.6,-4.0),(1.65,-3.5),(1.7,-2.5),(1.75,-3.0),(1.8,-3.5),(1.85,-2.5),(1.9,-1.5),(1.95,-0.8),(2.0,-2.0),(2.04,-3.0),(2.08,-2.0),(2.12,-1.5),(2.17,-2.5),(2.2,-4.0),(2.25,-2.5),(2.3,-1.5),(2.34,-3.0),(2.38,-6.0),(2.42,-10.5),(2.46,-8.0),(2.5,-5.0),(2.55,-3.5),(2.6,-3.5),(2.65,-3.5),(2.7,-2.5),(2.75,-1.5),(2.8,-1.5),(2.85,-1.8),(2.9,-3.0),(2.94,-3.5),(2.97,-5.0),(3.0,-7.0)]
f_red_up = [(-3.0,0.0),(-2.82,0.0),(-2.76,0.5),(-2.7,0.8),(-2.65,1.0),(-2.58,1.3),(-2.52,1.8),(-2.46,2.0),(-2.4,2.5),(-2.35,3.0),(-2.3,4.0),(-2.26,5.5),(-2.21,7.0),(-2.17,7.5),(-2.13,6.0),(-2.09,3.5),(-2.05,1.0),(-2.01,0.0),(-0.86,0.0),(-0.82,1.0),(-0.78,4.0),(-0.75,9.0),(-0.72,12.5),(-0.69,12.7),(-0.66,9.0),(-0.63,4.0),(-0.6,1.0),(-0.57,0.0),(-0.02,0.0),(0.02,0.5),(0.08,0.8),(0.14,1.0),(0.2,1.2),(0.25,1.5),(0.28,3.0),(0.31,6.5),(0.34,11.0),(0.37,13.5),(0.4,12.0),(0.43,8.0),(0.46,4.5),(0.5,3.0),(0.55,2.8),(0.6,3.5),(0.65,3.0),(0.7,3.0),(0.75,3.5),(0.8,3.0),(0.85,2.5),(0.9,3.0),(0.95,3.2),(1.0,2.8),(1.05,2.5),(1.1,3.0),(1.15,3.0),(1.2,2.5),(1.25,2.0),(1.3,2.5),(1.35,3.5),(1.4,3.5),(1.45,3.0),(1.5,2.0),(1.55,1.5),(1.6,2.0),(1.65,2.5),(1.7,3.5),(1.75,3.5),(1.8,3.0),(1.85,4.0),(1.88,5.5),(1.92,8.0),(1.95,9.2),(1.98,8.8),(2.02,7.5),(2.06,6.0),(2.1,5.5),(2.15,5.5),(2.2,5.0),(2.25,5.5),(2.3,5.5),(2.35,6.0),(2.38,6.0),(2.42,5.5),(2.46,4.5),(2.5,4.5),(2.55,4.0),(2.6,4.0),(2.65,3.5),(2.7,3.5),(2.75,4.0),(2.8,3.5),(2.85,3.0),(2.9,2.5),(2.94,1.5),(2.97,0.8),(3.0,0.3)]
f_red_dn = [(-3.0,-1.5),(-2.97,-0.5),(-2.94,0.0),(-2.0,0.0),(-1.95,-0.5),(-1.9,-0.3),(-1.85,-0.3),(-1.8,-0.6),(-1.75,-0.8),(-1.7,-0.4),(-1.65,-0.3),(-1.6,-0.8),(-1.55,-1.0),(-1.5,-0.6),(-1.45,-0.5),(-1.4,-0.8),(-1.35,-0.8),(-1.3,-0.5),(-1.25,-0.5),(-1.2,-0.8),(-1.15,-0.8),(-1.1,-1.0),(-1.05,-1.0),(-1.0,-0.7),(-0.95,-0.5),(-0.9,-0.8),(-0.85,-1.2),(-0.8,-1.0),(-0.75,-1.0),(-0.7,-1.3),(-0.65,-1.5),(-0.6,-1.2),(-0.55,-1.0),(-0.5,-1.5),(-0.45,-1.8),(-0.4,-1.5),(-0.35,-1.2),(-0.3,-1.5),(-0.25,-1.5),(-0.2,-1.8),(-0.15,-2.0),(-0.1,-1.7),(-0.05,-1.2),(0.0,-0.8),(0.05,-0.3),(0.1,0.2),(0.15,0.5),(0.2,0.2),(0.25,-0.5),(0.3,-1.2),(0.35,-1.8),(0.4,-2.2),(0.45,-2.8),(0.5,-3.0),(0.55,-3.2),(0.6,-2.5),(0.65,-2.5),(0.7,-3.0),(0.75,-3.5),(0.8,-3.0),(0.85,-3.3),(0.9,-3.5),(0.95,-4.0),(1.0,-3.8),(1.05,-3.5),(1.1,-4.0),(1.15,-3.8),(1.2,-3.2),(1.25,-3.0),(1.3,-3.5),(1.35,-4.2),(1.4,-5.0),(1.45,-4.8),(1.5,-4.5),(1.55,-3.8),(1.6,-3.5),(1.65,-3.8),(1.7,-4.0),(1.75,-3.5),(1.8,-3.0),(1.85,-3.5),(1.9,-3.2),(1.95,-3.5),(2.0,-3.0),(2.05,-2.0),(2.1,-1.2),(2.15,-0.8),(2.2,-1.0),(2.25,-1.5),(2.3,-2.5),(2.35,-4.5),(2.4,-5.5),(2.45,-5.0),(2.5,-5.5),(2.53,-6.3),(2.57,-5.5),(2.62,-4.5),(2.68,-4.5),(2.74,-4.8),(2.8,-5.0),(2.85,-4.0),(2.9,-4.5),(2.95,-5.0),(3.0,-5.5)]

x_tick_vals = [-2, -1, 0, 1, 2]
x_tick_text = ["-2", "-1", "0", "1", "2"]
y_tick_vals = [-10, -5, 0, 5, 10]
y_tick_text = ["-10", "-5", "0", "5", "10"]
x_minor = [-2.5, -1.5, -0.5, 0.5, 1.5, 2.5]
y_minor = [-12.5, -7.5, -2.5, 2.5, 7.5, 12.5]

panel_labels = ["(a)", "(b)", "(c)", "(d)", "(e)", "(f)"]
legend_names = [
    ["g-Mg<sub>3</sub>N<sub>2</sub>"],
    ["Na<sub>0.5</sub>Mg<sub>3</sub>N<sub>2</sub>", "Na<sub>3</sub>Mg<sub>3</sub>N<sub>2</sub>"],
    ["K<sub>0.5</sub>Mg<sub>3</sub>N<sub>2</sub>", "K<sub>3</sub>Mg<sub>3</sub>N<sub>2</sub>"],
    ["Mg<sub>0.5</sub>Mg<sub>3</sub>N<sub>2</sub>", "Mg<sub>1</sub>Mg<sub>3</sub>N<sub>2</sub>"],
    ["Ca<sub>0.5</sub>Mg<sub>3</sub>N<sub>2</sub>", "Ca<sub>3</sub>Mg<sub>3</sub>N<sub>2</sub>"],
    ["Al<sub>0.5</sub>Mg<sub>3</sub>N<sub>2</sub>", "Al<sub>1</sub>Mg<sub>3</sub>N<sub>2</sub>"],
]
panel_series = [
    [(a_up, a_dn)],
    [(b_blk_up, b_blk_dn), (b_red_up, b_red_dn)],
    [(c_blk_up, c_blk_dn), (c_red_up, c_red_dn)],
    [(d_blk_up, d_blk_dn), (d_red_up, d_red_dn)],
    [(e_blk_up, e_blk_dn), (e_red_up, e_red_dn)],
    [(f_blk_up, f_blk_dn), (f_red_up, f_red_dn)],
]

# ---------------- layout geometry (pixels) ----------------
BLACK, RED = "#000000", "#ff1111"
colors = [BLACK, RED]
FONT = "Liberation Serif, Times New Roman, serif"
geo = [  # (x0, x1, y0_top, y1_bottom)
    (50, 305, 14, 197), (371, 625, 14, 197),
    (51, 306, 245, 426), (371, 625, 245, 424),
    (49, 306, 474, 657), (371, 625, 474, 657),
]
xranges = [(-2.98, 2.95), (-2.99, 2.97), (-2.98, 2.99), (-2.99, 2.97), (-3.0, 3.0), (-3.0, 3.0)]
yranges = [(-13.7, 13.5), (-13.2, 13.1), (-13.0, 13.0), (-12.7, 13.1), (-13.0, 13.1), (-13.2, 13.6)]
label_pos = [(21, 22), (340, 22), (21, 252), (340, 252), (21, 481), (342, 481)]
legend_pos = [  # line x0, x1, first row y, row step
    (228, 250, 22, 0), (515, 536, 23, 17), (187, 208, 253, 17),
    (518, 540, 255, 17), (95, 117, 481, 18), (388, 410, 483, 18),
]
ytitle_x = [22, 342]
xtitle_y = [227, 452, 687]


def px(x):
    return x / W


def py(y):
    return 1 - y / H


fig = go.Figure()
shapes, annotations = [], []
layout = {}

for i in range(6):
    n = i + 1
    xa, ya = f"x{n}" if n > 1 else "x", f"y{n}" if n > 1 else "y"
    x0, x1, yt, yb = geo[i]
    for s, (up, dn) in enumerate(panel_series[i]):
        for curve in (up, dn):
            fig.add_trace(go.Scatter(
                x=[p[0] for p in curve], y=[p[1] for p in curve],
                mode="lines", line=dict(color=colors[s], width=1.9, shape="spline", smoothing=0.5),
                xaxis=xa, yaxis=ya, showlegend=False, hoverinfo="skip"))
    axis_common = dict(showline=True, linecolor="black", linewidth=1.6, mirror=True,
                       ticks="inside", ticklen=4, tickwidth=1.3, tickcolor="black",
                       showgrid=False, zeroline=False,
                       tickfont=dict(family=FONT, size=10.5, color="black", weight="bold"))
    layout[f"xaxis{n if n > 1 else ''}"] = dict(
        axis_common, domain=[px(x0), px(x1)], range=list(xranges[i]), anchor=ya,
        tickvals=x_tick_vals, ticktext=x_tick_text,
        minor=dict(tickvals=x_minor, ticks="inside", ticklen=2.5, tickwidth=1.1, tickcolor="black"))
    layout[f"yaxis{n if n > 1 else ''}"] = dict(
        axis_common, domain=[py(yb), py(yt)], range=list(yranges[i]), anchor=xa,
        tickvals=y_tick_vals, ticktext=y_tick_text,
        minor=dict(tickvals=y_minor, ticks="inside", ticklen=2.5, tickwidth=1.1, tickcolor="black"))
    # Fermi level dotted line
    shapes.append(dict(type="line", xref=xa, yref=f"{ya} domain", x0=0, x1=0, y0=0, y1=1,
                       line=dict(color="black", width=1.2, dash="dot")))
    # panel label
    lx, ly = label_pos[i]
    annotations.append(dict(text=panel_labels[i], x=px(lx), y=py(ly), xref="paper", yref="paper",
                            showarrow=False, xanchor="center", yanchor="middle",
                            font=dict(family=FONT, size=14, color="black", weight="bold")))
    # legend
    lx0, lx1, ly0, dy = legend_pos[i]
    for s, name in enumerate(legend_names[i]):
        yy = ly0 + s * dy
        shapes.append(dict(type="line", xref="paper", yref="paper", x0=px(lx0), x1=px(lx1),
                           y0=py(yy), y1=py(yy), line=dict(color=colors[s], width=1.9)))
        annotations.append(dict(text=name, x=px(lx1 + 2), y=py(yy), xref="paper", yref="paper",
                                showarrow=False, xanchor="left", yanchor="middle",
                                font=dict(family=FONT, size=11, color="black", weight="bold")))
    # axis titles
    col, row = i % 2, i // 2
    annotations.append(dict(text="Total DOS (states eV<sup>-1</sup>)", textangle=-90,
                            x=px(ytitle_x[col]), y=py((yt + yb) / 2 + 12), xref="paper", yref="paper",
                            showarrow=False, xanchor="center", yanchor="middle",
                            font=dict(family=FONT, size=14, color="black", weight="bold")))
    annotations.append(dict(text="E-E<i>f</i> (eV)",
                            x=px((x0 + x1) / 2), y=py(xtitle_y[row]), xref="paper", yref="paper",
                            showarrow=False, xanchor="center", yanchor="middle",
                            font=dict(family=FONT, size=16.5, color="black", weight="bold")))

# blue picture frame
BLUE, LIGHT = "#3347ee", "#8f9bf6"
for (bx0, by0, bx1, by1, c) in [(0, 0, 5, 707, BLUE), (0, 0, 635, 5, BLUE),
                                (628, 0, 635, 707, BLUE), (0, 700, 635, 707, BLUE),
                                (631, 5, 632, 707, LIGHT), (5, 703, 635, 704, LIGHT)]:
    shapes.append(dict(type="rect", xref="paper", yref="paper", x0=px(bx0), x1=px(bx1),
                       y0=py(by1), y1=py(by0), line=dict(width=0), fillcolor=c, layer="above"))

fig.update_layout(width=W, height=H, margin=dict(l=0, r=0, t=0, b=0),
                  paper_bgcolor="white", plot_bgcolor="white",
                  shapes=shapes, annotations=annotations, showlegend=False, **layout)
fig.write_html("out.html")
